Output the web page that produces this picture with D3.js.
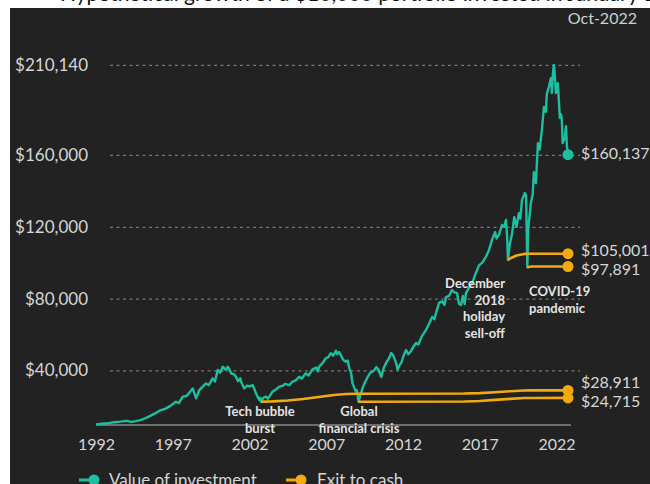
<!DOCTYPE html>
<html><head><meta charset="utf-8">
<script src="https://cdn.jsdelivr.net/npm/d3@7"></script>
<style>
html,body{margin:0;padding:0;background:#fff;}
svg{display:block;font-family:Lato,"Open Sans",sans-serif;}
</style></head>
<body><svg id="c" width="650" height="484"></svg>
<script>
// ---- data ----
const investYears = [1992.00,1992.40,1992.80,1993.20,1993.60,1994.00,1994.30,1994.60,1994.83,1995.20,1995.60,1996.00,1996.13,1996.50,1996.80,1997.20,1997.40,1997.65,1997.90,1998.10,1998.30,1998.52,1998.73,1998.95,1999.17,1999.35,1999.60,1999.75,1999.93,2000.10,2000.25,2000.47,2000.58,2000.70,2000.80,2001.00,2001.12,2001.25,2001.40,2001.45,2001.66,2001.85,2001.99,2002.20,2002.30,2002.42,2002.55,2002.64,2002.70,2002.75,2002.90,2003.07,2003.20,2003.50,2003.70,2003.94,2004.20,2004.30,2004.59,2004.80,2005.00,2005.24,2005.40,2005.67,2005.85,2006.10,2006.35,2006.45,2006.54,2006.75,2006.97,2007.15,2007.30,2007.45,2007.63,2007.72,2007.84,2008.00,2008.10,2008.28,2008.40,2008.50,2008.62,2008.71,2008.80,2008.93,2009.00,2009.10,2009.20,2009.36,2009.50,2009.68,2009.85,2010.12,2010.26,2010.40,2010.58,2010.75,2010.90,2011.10,2011.23,2011.35,2011.55,2011.65,2011.75,2011.90,2012.05,2012.20,2012.35,2012.50,2012.70,2012.85,2013.00,2013.20,2013.50,2013.70,2013.90,2014.05,2014.20,2014.35,2014.55,2014.70,2014.80,2015.00,2015.19,2015.35,2015.52,2015.65,2015.78,2015.90,2016.02,2016.10,2016.30,2016.50,2016.75,2016.95,2017.15,2017.40,2017.60,2017.80,2018.00,2018.10,2018.25,2018.45,2018.60,2018.71,2018.78,2018.84,2018.95,2019.10,2019.25,2019.40,2019.55,2019.65,2019.75,2019.94,2020.02,2020.10,2020.15,2020.33,2020.45,2020.53,2020.66,2020.79,2020.90,2021.05,2021.18,2021.30,2021.38,2021.50,2021.64,2021.70,2021.77,2021.83,2021.90,2021.96,2022.09,2022.22,2022.30,2022.35,2022.40,2022.55,2022.62,2022.68,2022.75];
const investValues = [10000,10300,10600,11200,11500,11900,11400,11800,12200,13300,15000,16800,17600,18600,20000,22600,21800,25400,25800,27800,30000,24500,29100,31000,32800,31800,35600,33800,40300,38800,42100,40300,42100,40600,38400,37800,36500,34000,35600,33700,30000,31500,31000,31900,30000,27300,25000,23600,24800,22600,24800,25400,24300,28200,29200,31000,31600,32500,31800,33700,34500,36500,35500,38400,37200,40600,41600,39500,42100,44000,46800,47500,49600,48200,51000,49000,50200,47700,46000,44900,45500,41200,38500,32800,31000,28200,29000,22600,25500,30000,33000,36000,38600,40000,41900,40500,36400,41500,44200,47000,49700,48600,44200,40500,42500,44500,48500,51400,49000,50500,53500,55300,54500,58500,62600,66000,69800,68500,73500,77600,78500,76500,80900,81500,84800,83500,83100,77000,76500,81500,77000,83100,86000,88500,94300,98500,99900,103200,107000,112700,117100,113500,115500,121000,120000,123800,115000,101500,110000,116000,125400,120000,127600,124500,134900,138800,137500,97500,118000,133200,138000,150400,144300,166600,163000,174000,186700,184000,194500,197800,202800,194500,205600,210140,203000,194500,200000,180500,182500,179400,166600,170000,176000,165000,160137];

const cashTechYears  = [2002.75,2003.5,2004.5,2005.5,2006.5,2007.5,2008.3,2009.0,2016.0,2017.0,2018.0,2019.0,2019.9,2020.3,2022.75];
const cashTechValues = [22600,22800,23300,24100,25200,26300,26900,27050,27150,27400,27900,28450,28850,28900,28911];
const cashGfcYears   = [2009.10,2016.0,2017.0,2018.0,2019.0,2019.9,2020.3,2022.75];
const cashGfcValues  = [22600,22700,23000,23600,24200,24650,24700,24715];
const cashDecYears   = [2018.84,2019.0,2019.4,2019.9,2020.3,2022.75];
const cashDecValues  = [101500,102500,104000,104900,105000,105001];
const cashCovidYears = [2020.10,2020.4,2022.75];
const cashCovidValues= [97500,97850,97891];

const yTickValues = [40000,80000,120000,160000,210140];
const xTickValues = [1992,1997,2002,2007,2012,2017,2022];
const endLabels = ["$160,137","$105,001","$97,891","$28,911","$24,715"];
const legendLabels = ["Value of investment","Exit to cash"];
const dateLabel = "Oct-2022";
const titleText = "Hypothetical growth of a $10,000 portfolio invested in January 1992";

// ---- drawing ----
const TEAL = "#1cbf9f", ORANGE = "#f3aa0c", TXT = "#d6d6d6";
const svg = d3.select("#c");
svg.append("text").attr("x", 60).attr("y", 1).attr("font-size", 21).attr("font-weight", 400)
  .attr("fill", "#111").text(titleText);
svg.append("rect").attr("x", 10).attr("y", 8).attr("width", 640).attr("height", 476).attr("fill", "#222222");

const x = d3.scaleLinear().domain([1992, 2022.75]).range([96, 568]);
const y = d3.scaleLinear().domain([0, 210140]).range([442.3, 64.9]);

// grid
const grid = svg.append("g").attr("transform", "translate(110,0)")
  .call(d3.axisRight(y).tickValues(yTickValues).tickSize(470).tickFormat(""));
grid.select(".domain").remove();
grid.selectAll("line").attr("stroke", "#777").attr("stroke-width", 1.3).attr("stroke-dasharray", "3,3.5");

// y labels
const yAx = svg.append("g").attr("transform", "translate(88,0)")
  .call(d3.axisLeft(y).tickValues(yTickValues).tickSize(0).tickPadding(0)
    .tickFormat(d => "$" + d3.format(",")(d)));
yAx.select(".domain").remove();
yAx.selectAll("text").attr("fill", TXT).attr("font-size", 17).attr("font-family", "Lato");

// x axis
const xAx = svg.append("g").attr("transform", "translate(0,425)")
  .call(d3.axisBottom(x).tickValues(xTickValues).tickSize(0).tickPadding(14).tickFormat(d3.format("d")));
xAx.select(".domain").attr("stroke", "#6e6e6e").attr("stroke-width", 2)
  .attr("d", `M${x(1992)},0H${x(2022.75)+3}`);
xAx.selectAll("text").attr("fill", TXT).attr("font-size", 16).attr("font-family", "Lato");

const line = d3.line().x(d => x(d[0])).y(d => y(d[1])).curve(d3.curveLinear);
const zip = (a, b) => a.map((v, i) => [v, b[i]]);

const cashSeries = [
  zip(cashTechYears, cashTechValues),
  zip(cashGfcYears, cashGfcValues),
  zip(cashDecYears, cashDecValues),
  zip(cashCovidYears, cashCovidValues)
];
const invest = zip(investYears, investValues);

svg.append("path").datum(invest).attr("d", line).attr("fill", "none")
  .attr("stroke", TEAL).attr("stroke-width", 2.4).attr("stroke-linejoin", "round");

cashSeries.forEach(s => {
  svg.append("path").datum(s).attr("d", line).attr("fill", "none")
    .attr("stroke", ORANGE).attr("stroke-width", 2.6).attr("stroke-linejoin", "round");
});

// end dots
const lastInvest = invest[invest.length - 1];
svg.append("circle").attr("cx", x(lastInvest[0])).attr("cy", y(lastInvest[1])).attr("r", 5.5).attr("fill", TEAL);
cashSeries.forEach(s => {
  const l = s[s.length - 1];
  svg.append("circle").attr("cx", x(l[0])).attr("cy", y(l[1])).attr("r", 5.5).attr("fill", ORANGE);
});

// end labels (ordered: invest, dec2018, covid, tech, gfc)
const endPoints = [lastInvest, cashSeries[2].at(-1), cashSeries[3].at(-1), cashSeries[0].at(-1), cashSeries[1].at(-1)];
const labelNudge = [0, -2, 4, -6, 5];
endPoints.forEach((p, i) => {
  svg.append("text").attr("x", x(p[0]) + 13).attr("y", y(p[1]) + labelNudge[i])
    .attr("dominant-baseline", "middle").attr("font-size", 16).attr("fill", TXT).text(endLabels[i]);
});

svg.append("text").attr("x", 637).attr("y", 24).attr("text-anchor", "end")
  .attr("font-size", 16).attr("fill", "#cfcfcf").text(dateLabel);

// annotations
function note(lines, px, py, anchor) {
  const t = svg.append("text").attr("font-size", 13).attr("font-weight", 700)
    .attr("fill", "#e4e4e4").attr("text-anchor", anchor);
  lines.forEach((s, i) => t.append("tspan").attr("x", px).attr("y", py + i * 16.7).text(s));
}
note(["Tech bubble", "burst"], 260, 416, "middle");
note(["Global", "financial crisis"], 359, 416, "middle");
note(["December", "2018", "holiday", "sell-off"], 505, 288, "end");
note(["COVID-19", "pandemic"], 529, 296, "start");

// legend
const lg = svg.append("g");
[[TEAL, 79, 109], [ORANGE, 286, 317]].forEach((c, i) => {
  lg.append("line").attr("x1", c[1]).attr("x2", c[1] + 15).attr("y1", 480).attr("y2", 480)
    .attr("stroke", c[0]).attr("stroke-width", 3);
  lg.append("circle").attr("cx", c[1] + 15).attr("cy", 480).attr("r", 5.5).attr("fill", c[0]);
  lg.append("text").attr("x", c[2]).attr("y", 486).attr("font-size", 17).attr("fill", TXT).text(legendLabels[i]);
});
</script></body></html>
